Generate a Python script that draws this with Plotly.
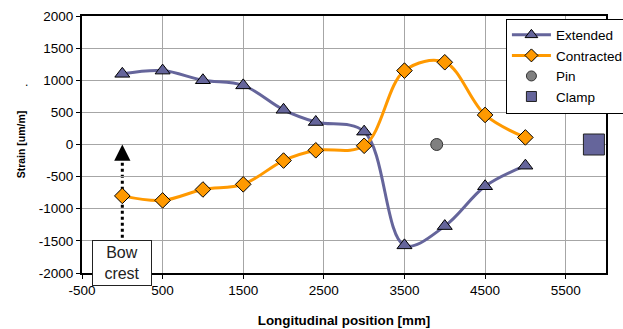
import plotly.graph_objects as go

positions = [0, 500, 1000, 1500, 2000, 2400, 3000, 3500, 4000, 4500, 5000]
extended = [1100, 1150, 1000, 920, 540, 350, 200, -1570, -1270, -650, -330]
contracted = [-800, -870, -700, -620, -250, -90, -20, 1150, 1280, 460, 110]
pin_x, pin_y = [3900], [0]
clamp_x, clamp_y = [5850], [0]
x_ticks = [-500, 500, 1500, 2500, 3500, 4500, 5500]
y_ticks = [-2000, -1500, -1000, -500, 0, 500, 1000, 1500, 2000]

BLUE = "#65659b"
ORANGE = "#ff9900"
FONT = "Liberation Sans, Arial, sans-serif"

fig = go.Figure()
fig.add_trace(go.Scatter(
    x=positions, y=extended, name="Extended", mode="lines+markers", showlegend=False,
    line=dict(color=BLUE, width=3, shape="spline", smoothing=1.0),
    marker=dict(symbol="triangle-up", size=13, color=BLUE, line=dict(color="black", width=1)),
    cliponaxis=False))
fig.add_trace(go.Scatter(
    x=positions, y=contracted, name="Contracted", mode="lines+markers", showlegend=False,
    line=dict(color=ORANGE, width=3, shape="spline", smoothing=1.0),
    marker=dict(symbol="diamond", size=12, color=ORANGE, line=dict(color="black", width=1)),
    cliponaxis=False))
fig.add_trace(go.Scatter(
    x=pin_x, y=pin_y, name="Pin", mode="markers", showlegend=False,
    marker=dict(symbol="circle", size=12, color="#808080", line=dict(color="#333333", width=1))))
fig.add_trace(go.Scatter(
    x=clamp_x, y=clamp_y, name="Clamp", mode="markers", showlegend=False, cliponaxis=False,
    marker=dict(symbol="square", size=21, color=BLUE, line=dict(color="#222222", width=1))))

# legend-only entries with small markers
fig.add_trace(go.Scatter(x=[None], y=[None], name="Extended", mode="lines+markers",
    line=dict(color=BLUE, width=3),
    marker=dict(symbol="triangle-up", size=11, color=BLUE, line=dict(color="black", width=1))))
fig.add_trace(go.Scatter(x=[None], y=[None], name="Contracted", mode="lines+markers",
    line=dict(color=ORANGE, width=3),
    marker=dict(symbol="diamond", size=10, color=ORANGE, line=dict(color="black", width=1))))
fig.add_trace(go.Scatter(x=[None], y=[None], name="Pin", mode="markers",
    marker=dict(symbol="circle", size=10, color="#808080", line=dict(color="#333333", width=1))))
fig.add_trace(go.Scatter(x=[None], y=[None], name="Clamp", mode="markers",
    marker=dict(symbol="square", size=10, color=BLUE, line=dict(color="#222222", width=1))))

# dotted pointer to bow crest
fig.add_shape(type="line", x0=0, x1=0, y0=-1450, y1=-230, xref="x", yref="y",
              line=dict(color="black", width=3, dash="dot"), layer="below")
fig.add_annotation(x=0, y=0, ax=0, ay=-260, xref="x", yref="y", axref="x", ayref="y",
                   showarrow=True, arrowhead=2, arrowsize=1.3, arrowwidth=2.5,
                   arrowcolor="black", text="")
fig.add_annotation(x=0, y=-1840, xref="x", yref="y", text="Bow<br>crest",
                   showarrow=False, bgcolor="white", bordercolor="#222222", borderwidth=1,
                   borderpad=3, width=52,
                   font=dict(family="Liberation Sans Narrow, Arial Narrow, sans-serif",
                             size=16, color="#222222"))
fig.add_annotation(x=-0.112, y=0.78, xref="paper", yref="paper", text=".",
                   showarrow=False, font=dict(family=FONT, size=12, color="black"))

fig.update_layout(
    width=623, height=329,
    margin=dict(l=82, r=17, t=16, b=56, autoexpand=False),
    paper_bgcolor="white", plot_bgcolor="white",
    font=dict(family=FONT, size=13.5, color="black"),
    showlegend=True,
    legend=dict(x=0.809, y=0.99, xanchor="left", yanchor="top",
                bgcolor="white", bordercolor="black", borderwidth=1,
                font=dict(family=FONT, size=13.5, color="black"),
                tracegroupgap=0, itemwidth=39),
    xaxis=dict(range=[-500, 6000], tickvals=x_ticks, ticktext=[str(v) for v in x_ticks],
               showgrid=True, gridcolor="#a6a6a6", gridwidth=1,
               zeroline=False, showline=True, linecolor="black", linewidth=2,
               mirror=True, ticks="outside", ticklen=4, tickcolor="black",
               title=dict(text="<b>Longitudinal position [mm]</b>",
                          font=dict(size=13.4), standoff=18)),
    yaxis=dict(range=[-2000, 2000], tickvals=y_ticks, ticktext=[str(v) for v in y_ticks],
               showgrid=True, gridcolor="#a6a6a6", gridwidth=1,
               zeroline=False, showline=True, linecolor="black", linewidth=2,
               mirror=True, ticks="outside", ticklen=4, tickcolor="black",
               title=dict(text="<b>Strain [um/m]</b>",
                          font=dict(size=10.5), standoff=11)),
)

fig.write_html("out.html")
